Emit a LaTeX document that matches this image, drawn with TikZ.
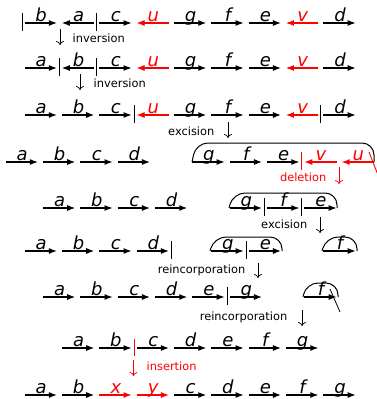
\documentclass[tikz,border=0pt]{standalone}
\usepackage{fontspec}
\setmainfont{DejaVu Sans}
\usetikzlibrary{arrows.meta}
\tikzset{
  seg/.style={line width=1.1pt,-{Latex[length=8pt,width=6pt]}},
  lab/.style={inner sep=0pt,font=\fontsize{18}{20}\selectfont\itshape,anchor=base},
  bar/.style={line width=0.9pt},
  dn/.style={line width=0.7pt,-{To[length=4pt,width=8pt]}},
  op/.style={inner sep=0pt,font=\fontsize{11.4}{13}\selectfont},
  brk/.style={line width=1pt,rounded corners=12pt},
}
% \segR{base}{k}{y}{label}{colour}{name}
\newcommand{\segR}[6]{%
  \coordinate (#6s) at ({#1+37.35*#2+2.5},#3);
  \coordinate (#6e) at ({#1+37.35*(#2+1)-2.5},#3);
  \draw[seg,#5] (#6s) -- (#6e);
  \node[lab,text=#5] (#6) at ({#1+37.35*#2+19.2},{#3-1.4}) {#4};}
\newcommand{\segL}[6]{%
  \coordinate (#6s) at ({#1+37.35*(#2+1)-2.5},#3);
  \coordinate (#6e) at ({#1+37.35*#2+2.5},#3);
  \draw[seg,#5] (#6s) -- (#6e);
  \node[lab,text=#5] (#6) at ({#1+37.35*#2+19.2},{#3-1.4}) {#4};}
% \vbar{x}{y}{colour}{name}
\newcommand{\vbar}[4]{%
  \coordinate (#4t) at (#1,{#2-10});
  \coordinate (#4b) at (#1,{#2+8});
  \draw[bar,#3] (#4t) -- (#4b);}
\begin{document}
\begin{tikzpicture}[x=1pt,y=-1pt]
\useasboundingbox (0,0) rectangle (377,399);
% ---------- row 1
\vbar{22}{23}{black}{r1p}
\segR{22}{0}{23}{b}{black}{r1b}
\segL{22}{1}{23}{a}{black}{r1a}
\vbar{96.7}{23}{black}{r1q}
\segR{22}{2}{23}{c}{black}{r1c}
\segL{22}{3}{23}{u}{red}{r1u}
\segR{22}{4}{23}{g}{black}{r1g}
\segR{22}{5}{23}{f}{black}{r1f}
\segR{22}{6}{23}{e}{black}{r1e}
\segL{22}{7}{23}{v}{red}{r1v}
\segR{22}{8}{23}{d}{black}{r1d}
\coordinate (a1t) at (60,29); \coordinate (a1b) at (60,45);
\draw[dn] (a1t) -- (a1b);
\node[op,anchor=west] (l1) at (72.5,38.5) {inversion};
% ---------- row 2
\segR{22}{0}{68}{a}{black}{r2a}
\vbar{59.35}{68}{black}{r2p}
\segL{22}{1}{68}{b}{black}{r2b}
\vbar{96.7}{68}{black}{r2q}
\segR{22}{2}{68}{c}{black}{r2c}
\segL{22}{3}{68}{u}{red}{r2u}
\segR{22}{4}{68}{g}{black}{r2g}
\segR{22}{5}{68}{f}{black}{r2f}
\segR{22}{6}{68}{e}{black}{r2e}
\segL{22}{7}{68}{v}{red}{r2v}
\segR{22}{8}{68}{d}{black}{r2d}
\coordinate (a2t) at (80,74); \coordinate (a2b) at (80,90);
\draw[dn] (a2t) -- (a2b);
\node[op,anchor=west] (l2) at (93.5,83.5) {inversion};
% ---------- row 3
\segR{22}{0}{115}{a}{black}{r3a}
\segR{22}{1}{115}{b}{black}{r3b}
\segR{22}{2}{115}{c}{black}{r3c}
\vbar{134.05}{115}{black}{r3p}
\segL{22}{3}{115}{u}{red}{r3u}
\segR{22}{4}{115}{g}{black}{r3g}
\segR{22}{5}{115}{f}{black}{r3f}
\segR{22}{6}{115}{e}{black}{r3e}
\segL{22}{7}{115}{v}{red}{r3v}
\vbar{320.8}{115}{black}{r3q}
\segR{22}{8}{115}{d}{black}{r3d}
\coordinate (a3t) at (228,122); \coordinate (a3b) at (228,138);
\draw[dn] (a3t) -- (a3b);
\node[op,anchor=east] (l3) at (214.5,131.5) {excision};
% ---------- row 4
\segR{3}{0}{162}{a}{black}{r4a}
\segR{3}{1}{162}{b}{black}{r4b}
\segR{3}{2}{162}{c}{black}{r4c}
\segR{3}{3}{162}{d}{black}{r4d}
\coordinate (k4a) at (192,162); \coordinate (k4b) at (196,143);
\coordinate (k4c) at (374,143); \coordinate (k4d) at (374,162);
\draw[brk] (k4a) -- (k4b) -- (k4c) -- (k4d);
\segR{3}{5}{162}{g}{black}{r4g}
\segR{3}{6}{162}{f}{black}{r4f}
\segR{3}{7}{162}{e}{black}{r4e}
\vbar{301.8}{162}{red}{r4p}
\segL{3}{8}{162}{v}{red}{r4v}
\segL{3}{9}{162}{u}{red}{r4u}
\coordinate (s4a) at (369,152); \coordinate (s4b) at (378,175);
\draw[red,line width=0.9pt] (s4a) -- (s4b);
\node[op,anchor=east,text=red] (l4) at (326.5,177.5) {deletion};
\coordinate (a4t) at (339,167); \coordinate (a4b) at (339,184);
\draw[dn,red] (a4t) -- (a4b);
% ---------- row 5
\segR{3}{1}{208}{a}{black}{r5a}
\segR{3}{2}{208}{b}{black}{r5b}
\segR{3}{3}{208}{c}{black}{r5c}
\segR{3}{4}{208}{d}{black}{r5d}
\coordinate (k5a) at (229,208); \coordinate (k5b) at (233,193);
\coordinate (k5c) at (337,193); \coordinate (k5d) at (337,208);
\draw[brk] (k5a) -- (k5b) -- (k5c) -- (k5d);
\segR{3}{6}{208}{g}{black}{r5g}
\vbar{264.45}{208}{black}{r5p}
\segR{3}{7}{208}{f}{black}{r5f}
\vbar{301.8}{208}{black}{r5q}
\segR{3}{8}{208}{e}{black}{r5e}
\node[op,anchor=east] (l5) at (307.5,224.5) {excision};
\coordinate (a5t) at (320,217); \coordinate (a5b) at (320,233);
\draw[dn] (a5t) -- (a5b);
% ---------- row 6
\segR{22}{0}{251}{a}{black}{r6a}
\segR{22}{1}{251}{b}{black}{r6b}
\segR{22}{2}{251}{c}{black}{r6c}
\segR{22}{3}{251}{d}{black}{r6d}
\vbar{171.4}{251}{black}{r6p}
\coordinate (k6a) at (210,251); \coordinate (k6b) at (214,237);
\coordinate (k6c) at (282,237); \coordinate (k6d) at (282,251);
\draw[brk] (k6a) -- (k6b) -- (k6c) -- (k6d);
\segR{22}{5}{251}{g}{black}{r6g}
\vbar{246.1}{251}{black}{r6q}
\segR{22}{6}{251}{e}{black}{r6e}
\coordinate (k7a) at (322,251); \coordinate (k7b) at (326,237);
\coordinate (k7c) at (357,237); \coordinate (k7d) at (357,251);
\draw[brk] (k7a) -- (k7b) -- (k7c) -- (k7d);
\segR{22}{8}{251}{f}{black}{r6f}
\node[op,anchor=east] (l6) at (245.5,270.5) {reincorporation};
\coordinate (a6t) at (258,263); \coordinate (a6b) at (258,278);
\draw[dn] (a6t) -- (a6b);
% ---------- row 7
\segR{3}{1}{297}{a}{black}{r7a}
\segR{3}{2}{297}{b}{black}{r7b}
\segR{3}{3}{297}{c}{black}{r7c}
\segR{3}{4}{297}{d}{black}{r7d}
\segR{3}{5}{297}{e}{black}{r7e}
\vbar{227.1}{297}{black}{r7p}
\segR{3}{6}{297}{g}{black}{r7g}
\coordinate (k8a) at (303,297); \coordinate (k8b) at (306,283);
\coordinate (k8c) at (338,283); \coordinate (k8d) at (338,297);
\draw[brk] (k8a) -- (k8b) -- (k8c) -- (k8d);
\segR{3}{8}{297}{f}{black}{r7f}
\coordinate (s7a) at (330,289); \coordinate (s7b) at (340,312);
\draw[line width=0.8pt] (s7a) -- (s7b);
\node[op,anchor=east] (l7) at (287.5,317.5) {reincorporation};
\coordinate (a7t) at (302,310); \coordinate (a7b) at (302,326);
\draw[dn] (a7t) -- (a7b);
% ---------- row 8
\segR{22}{1}{348}{a}{black}{r8a}
\segR{22}{2}{348}{b}{black}{r8b}
\segR{22}{3}{348}{c}{black}{r8c}
\segR{22}{4}{348}{d}{black}{r8d}
\segR{22}{5}{348}{e}{black}{r8e}
\segR{22}{6}{348}{f}{black}{r8f}
\segR{22}{7}{348}{g}{black}{r8g}
\coordinate (b8t) at (134,339); \coordinate (b8b) at (134,356);
\draw[bar,red] (b8t) -- (b8b);
\coordinate (a8t) at (133.5,360); \coordinate (a8b) at (133.5,376);
\draw[dn,red] (a8t) -- (a8b);
\node[op,anchor=west,text=red] (l8) at (146.5,366.5) {insertion};
% ---------- row 9
\segR{22}{0}{395}{a}{black}{r9a}
\segR{22}{1}{395}{b}{black}{r9b}
\segR{22}{2}{395}{x}{red}{r9x}
\segR{22}{3}{395}{y}{red}{r9y}
\segR{22}{4}{395}{c}{black}{r9c}
\segR{22}{5}{395}{d}{black}{r9d}
\segR{22}{6}{395}{e}{black}{r9e}
\segR{22}{7}{395}{f}{black}{r9f}
\segR{22}{8}{395}{g}{black}{r9g}
\end{tikzpicture}
\end{document}
